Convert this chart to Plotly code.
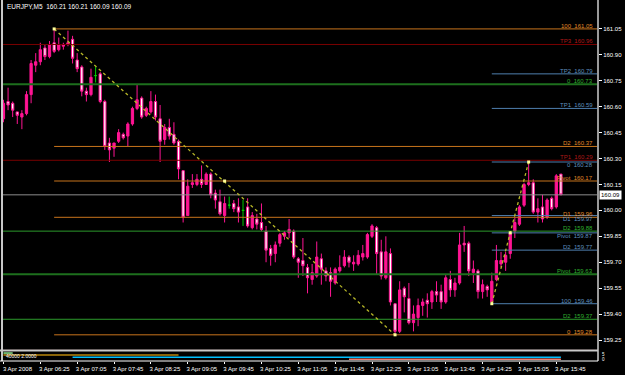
import plotly.graph_objects as go

# ---------------- data ----------------
symbol = "EURJPY,M5"
tick_bars = list(range(0, 121, 8))
tick_labels = ["3 Apr 2008", "3 Apr 06:25", "3 Apr 07:05", "3 Apr 07:45", "3 Apr 08:25",
               "3 Apr 09:05", "3 Apr 09:45", "3 Apr 10:25", "3 Apr 11:05", "3 Apr 11:45",
               "3 Apr 12:25", "3 Apr 13:05", "3 Apr 13:45", "3 Apr 14:25", "3 Apr 15:05",
               "3 Apr 15:45"]

opens = [160.53, 160.63, 160.62, 160.57, 160.54, 160.56, 160.67, 160.84, 160.86, 160.94,
         160.89, 160.97, 160.93, 160.95, 160.96, 160.99, 160.87, 160.83, 160.69, 160.67,
         160.78, 160.79, 160.63, 160.39, 160.36, 160.40, 160.44, 160.43, 160.50, 160.59,
         160.65, 160.55, 160.57, 160.63, 160.53, 160.41, 160.48, 160.44, 160.40, 160.23,
         159.97, 160.15, 160.15, 160.18, 160.15, 160.21, 160.10, 160.05, 159.97, 160.03,
         160.04, 160.02, 160.00, 160.02, 159.90, 159.95, 159.93, 159.88, 159.78, 159.75,
         159.81, 159.85, 159.87, 159.88, 159.72, 159.71, 159.67, 159.60, 159.62, 159.72,
         159.65, 159.64, 159.58, 159.65, 159.68, 159.73, 159.69, 159.69, 159.73, 159.73,
         159.85, 159.90, 159.76, 159.61, 159.75, 159.46, 159.30, 159.55, 159.49, 159.35,
         159.38, 159.45, 159.48, 159.47, 159.53, 159.53, 159.47, 159.60, 159.54, 159.58,
         159.81, 159.81, 159.64, 159.65, 159.53, 159.56, 159.47, 159.60, 159.69, 159.70,
         159.75, 159.88, 159.92, 160.03, 160.15, 160.16, 159.99, 160.02, 159.96, 160.07,
         160.02, 160.21]
highs = [160.64, 160.71, 160.63, 160.57, 160.58, 160.69, 160.87, 160.91, 160.97, 160.96,
         160.98, 161.05, 161.00, 160.97, 161.04, 161.01, 160.91, 160.84, 160.71, 160.82,
         160.83, 160.80, 160.64, 160.42, 160.39, 160.47, 160.45, 160.51, 160.60, 160.73,
         160.66, 160.60, 160.69, 160.67, 160.61, 160.50, 160.53, 160.51, 160.41, 160.23,
         160.18, 160.21, 160.21, 160.26, 160.22, 160.22, 160.12, 160.12, 160.08, 160.08,
         160.06, 160.07, 160.06, 160.07, 159.99, 159.98, 160.04, 159.91, 159.80, 159.82,
         159.87, 159.88, 159.95, 159.89, 159.73, 159.84, 159.69, 159.69, 159.82, 159.75,
         159.67, 159.67, 159.67, 159.74, 159.77, 159.74, 159.74, 159.77, 159.80, 159.87,
         159.92, 159.91, 159.83, 159.85, 159.78, 159.46, 159.59, 159.56, 159.58, 159.45,
         159.49, 159.49, 159.52, 159.54, 159.59, 159.57, 159.63, 159.65, 159.61, 159.87,
         159.91, 159.82, 159.71, 159.66, 159.60, 159.57, 159.64, 159.80, 159.76, 159.76,
         159.87, 159.96, 160.03, 160.16, 160.28, 160.18, 160.07, 160.09, 160.07, 160.08,
         160.21, 160.21]
lows = [160.51, 160.58, 160.54, 160.50, 160.47, 160.55, 160.62, 160.80, 160.84, 160.87,
        160.88, 160.91, 160.92, 160.93, 160.95, 160.85, 160.80, 160.66, 160.63, 160.66,
        160.74, 160.62, 160.35, 160.28, 160.31, 160.39, 160.41, 160.37, 160.49, 160.58,
        160.53, 160.54, 160.56, 160.52, 160.28, 160.38, 160.41, 160.38, 160.18, 159.93,
        159.97, 160.13, 160.14, 160.13, 160.15, 160.07, 160.01, 159.97, 159.93, 160.01,
        159.99, 159.93, 159.91, 159.90, 159.89, 159.89, 159.88, 159.70, 159.68, 159.70,
        159.79, 159.83, 159.84, 159.72, 159.61, 159.62, 159.52, 159.57, 159.61, 159.57,
        159.59, 159.50, 159.57, 159.64, 159.67, 159.67, 159.65, 159.68, 159.71, 159.72,
        159.84, 159.63, 159.60, 159.60, 159.45, 159.28, 159.29, 159.41, 159.34, 159.30,
        159.33, 159.39, 159.38, 159.43, 159.47, 159.43, 159.46, 159.50, 159.50, 159.57,
        159.76, 159.62, 159.58, 159.49, 159.49, 159.50, 159.46, 159.59, 159.67, 159.65,
        159.72, 159.84, 159.91, 160.02, 160.14, 159.98, 159.93, 159.93, 159.95, 160.00,
        160.01, 160.09]
closes = [160.62, 160.61, 160.58, 160.55, 160.56, 160.67, 160.85, 160.86, 160.93, 160.89,
          160.96, 160.92, 160.96, 160.96, 160.97, 160.88, 160.82, 160.69, 160.67, 160.77,
          160.78, 160.63, 160.37, 160.35, 160.39, 160.45, 160.42, 160.50, 160.59, 160.64,
          160.54, 160.59, 160.63, 160.54, 160.40, 160.48, 160.43, 160.39, 160.24, 159.96,
          160.14, 160.16, 160.18, 160.15, 160.21, 160.09, 160.06, 159.98, 160.04, 160.03,
          160.01, 159.99, 160.00, 159.91, 159.97, 159.92, 159.89, 159.77, 159.74, 159.80,
          159.86, 159.87, 159.89, 159.73, 159.70, 159.68, 159.61, 159.64, 159.73, 159.66,
          159.62, 159.59, 159.66, 159.67, 159.73, 159.70, 159.70, 159.74, 159.75, 159.86,
          159.91, 159.75, 159.62, 159.76, 159.47, 159.30, 159.54, 159.50, 159.35, 159.40,
          159.45, 159.47, 159.46, 159.53, 159.51, 159.47, 159.61, 159.54, 159.58, 159.80,
          159.80, 159.65, 159.66, 159.53, 159.57, 159.54, 159.59, 159.71, 159.71, 159.74,
          159.87, 159.93, 160.02, 160.15, 160.16, 159.99, 160.01, 159.95, 160.06, 160.01,
          160.20, 160.09]

# swing points used by the trend lines (bar index, price)
swing_bars = [11, 85, 106, 114]
swing_prices = [161.05, 159.28, 159.46, 160.28]
cross_bars = [48, 110]
cross_prices = [160.17, 159.87]

# horizontal levels
fib_names = ["100", "D2", "Pivot", "D1", "0"]
fib_prices = [161.05, 160.37, 160.17, 159.96, 159.28]
tp_names = ["TP3", "TP1", "0"]
tp_prices = [160.96, 160.29, 159.19]
pv_names = ["0", "Pivot"]
pv_prices = [160.73, 159.63]
pd_names = ["D2", "D2"]
pd_prices = [159.88, 159.37]
tg_names = ["TP2", "TP1", "0", "D1", "Pivot", "D2", "100"]
tg_prices = [160.79, 160.59, 160.28, 159.97, 159.87, 159.77, 159.46]

# sub-window indicator segments
sub_values = [4.7, 3.6, 2.2, 1.1]
sub_start = [0, 0, 15, 75]
sub_end = [2, 38, 121, 121]
sub_text = "40000 2.0000"

y_ticks = [161.05, 160.90, 160.75, 160.60, 160.45, 160.30, 160.15, 160.00,
           159.85, 159.70, 159.55, 159.40, 159.25]

# ---------------- figure ----------------
W, H = 625, 375
ML, MR, MT, MB = 3, 24, 3, 13
PW, PH = W - ML - MR, H - MT - MB
FONT = "Liberation Sans"

bars = list(range(len(opens)))
X0, X1 = -0.1, 129.05
Y0, Y1 = 159.192, 161.20
main_bottom_px = 351
sub_top_px = 353
main_dom0 = (H - MB - main_bottom_px) / PH
sub_dom1 = (H - MB - sub_top_px) / PH

doji = [o == c for o, c in zip(opens, closes)]
normal = [not d for d in doji]


def pick(vals, keep):
    return [v if k else None for v, k in zip(vals, keep)]


fig = go.Figure()
other_prices = fib_prices + tp_prices + pv_prices + pd_prices


def add_levels(names, prices, start, color, width, tcolor, avoid=False):
    for n, p in zip(names, prices):
        fig.add_trace(go.Scatter(x=[start, X1], y=[p, p], mode="lines",
                                 line=dict(color=color, width=width),
                                 hoverinfo="skip", showlegend=False))
        below = avoid and any(abs(p - q) < 0.015 for q in other_prices)
        fig.add_annotation(x=128.2, y=p, xref="x", yref="y", text=f"{n}  {p:.2f}",
                           xanchor="right", yanchor="top" if below else "bottom",
                           showarrow=False, borderpad=0,
                           font=dict(family=FONT, size=6, color=tcolor),
                           yshift=1 if below else -1)


add_levels(tp_names, tp_prices, X0, "#7a0000", 1, "#b01818")
add_levels(pv_names, pv_prices, X0, "#1d6f1d", 2, "#2fae2f")
add_levels(pd_names, pd_prices, X0, "#2c9a2c", 1, "#2fae2f")
add_levels(fib_names, fib_prices, swing_bars[0], "#c8741c", 1, "#e08a28")
add_levels(tg_names, tg_prices, swing_bars[2], "#4f7fae", 1, "#5f8fbf", avoid=True)

# current price line
fig.add_trace(go.Scatter(x=[X0, X1], y=[closes[-1], closes[-1]], mode="lines",
                         line=dict(color="#8c8c8c", width=1), hoverinfo="skip",
                         showlegend=False))

# candles
fig.add_trace(go.Candlestick(
    x=bars, open=pick(opens, normal), high=pick(highs, normal),
    low=pick(lows, normal), close=pick(closes, normal),
    increasing=dict(fillcolor="#ff1493", line=dict(color="#ff1493", width=1)),
    decreasing=dict(fillcolor="#ffffff", line=dict(color="#ff1493", width=1)),
    whiskerwidth=0, showlegend=False, hoverinfo="skip"))
fig.add_trace(go.Candlestick(
    x=bars, open=pick(opens, doji), high=pick(highs, doji),
    low=pick(lows, doji), close=pick(closes, doji),
    increasing=dict(fillcolor="#00dd00", line=dict(color="#00cc00", width=1)),
    decreasing=dict(fillcolor="#00dd00", line=dict(color="#00cc00", width=1)),
    whiskerwidth=0, showlegend=False, hoverinfo="skip"))

# trend lines
for a in (0, 2):
    fig.add_trace(go.Scatter(x=swing_bars[a:a + 2], y=swing_prices[a:a + 2], mode="lines",
                             line=dict(color="#b8b828", width=1.3, dash="dot"),
                             hoverinfo="skip", showlegend=False))
fig.add_trace(go.Scatter(x=swing_bars + cross_bars, y=swing_prices + cross_prices,
                         mode="markers",
                         marker=dict(symbol="square", size=3, color="#ffff9a",
                                     line=dict(width=0)),
                         hoverinfo="skip", showlegend=False))

# sub-window segments
sub_colors = ["#8ee68e", "#b8860b", "#00bfff", "#f08070"]
for v, s, e, c in zip(sub_values, sub_start, sub_end, sub_colors):
    fig.add_trace(go.Scatter(x=[s, e], y=[v, v], mode="lines", yaxis="y2",
                             line=dict(color=c, width=1.5), hoverinfo="skip",
                             showlegend=False))

fig.update_layout(
    width=W, height=H,
    margin=dict(l=ML, r=MR, t=MT, b=MB),
    paper_bgcolor="#000000", plot_bgcolor="#000000",
    font=dict(family=FONT, size=6, color="#ffffff"),
    showlegend=False,
    xaxis=dict(range=[X0, X1], anchor="y2", showgrid=False, zeroline=False,
               tickmode="array", tickvals=tick_bars, ticktext=tick_labels,
               ticks="outside", ticklen=2, tickcolor="#ffffff", tickwidth=1,
               tickfont=dict(family=FONT, size=6, color="#ffffff"),
               ticklabelshift=14, ticklabelstandoff=0,
               rangeslider=dict(visible=False), fixedrange=True),
    yaxis=dict(domain=[main_dom0, 1], range=[Y0, Y1], side="right", anchor="x",
               showgrid=False, zeroline=False, tickmode="array", tickvals=y_ticks,
               ticktext=[f"{t:.2f}" for t in y_ticks], ticks="outside", ticklen=3,
               tickcolor="#ffffff", tickfont=dict(family=FONT, size=6, color="#ffffff")),
    yaxis2=dict(domain=[0, sub_dom1], range=[0, 5.3], showgrid=False, zeroline=False,
                showticklabels=False, anchor="x"),
)


def px_x(px):
    return (px - ML) / PW


def px_y(py):
    return (H - MB - py) / PH


line_shapes = [
    (px_x(2), px_y(0), px_x(2), px_y(362), "#c8c8c8", 2),
    (px_x(601), px_y(0), px_x(601), px_y(362), "#9a9a9a", 2),
    (px_x(0), px_y(351.5), px_x(601), px_y(351.5), "#c8c8c8", 2),
    (px_x(0), px_y(362), px_x(601), px_y(362), "#ffffff", 1),
]
for x0, y0, x1, y1, c, w in line_shapes:
    fig.add_shape(type="line", xref="paper", yref="paper", x0=x0, y0=y0, x1=x1, y1=y1,
                  line=dict(color=c, width=w), layer="above")

# title
fig.add_annotation(xref="paper", yref="paper", x=px_x(5), y=px_y(7), xanchor="left",
                   yanchor="middle", showarrow=False,
                   text=f"{symbol}  {opens[-1]:.2f} {highs[-1]:.2f} {lows[-1]:.2f} {closes[-1]:.2f}",
                   font=dict(family=FONT, size=6.5, color="#ffffff"))
# current price box
fig.add_annotation(xref="paper", yref="y", x=px_x(602), y=closes[-1], xanchor="left",
                   yanchor="middle", showarrow=False, text=f"{closes[-1]:.2f}",
                   bgcolor="#ffffff", borderpad=1,
                   font=dict(family=FONT, size=6, color="#000000"))
# sub-window text
fig.add_annotation(xref="paper", yref="paper", x=px_x(4), y=px_y(357), xanchor="left",
                   yanchor="middle", showarrow=False, text=sub_text,
                   font=dict(family=FONT, size=5, color="#ffffff"))
for t, py in (("5", 355), ("0", 360)):
    fig.add_annotation(xref="paper", yref="paper", x=px_x(603), y=px_y(py), xanchor="left",
                       yanchor="middle", showarrow=False, text=t,
                       font=dict(family=FONT, size=4.5, color="#ffffff"))

fig.write_html("out.html")
